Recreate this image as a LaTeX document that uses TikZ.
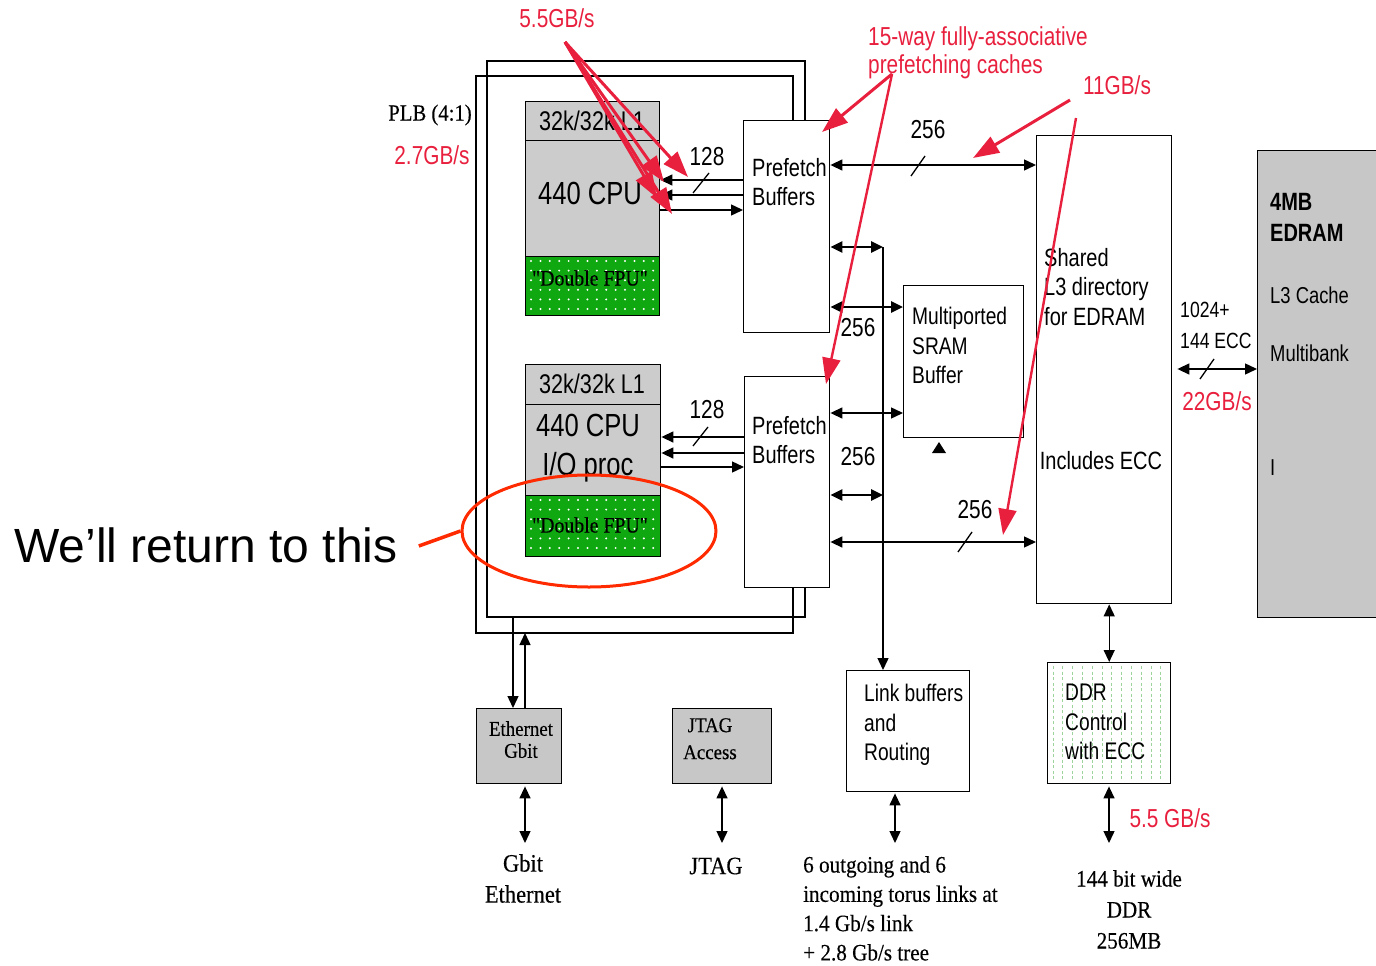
\documentclass[tikz,border=0pt]{standalone}
\usepackage{fontspec}
\setmainfont{Liberation Sans}
\newfontfamily\narrowsans[FakeStretch=0.8]{Liberation Sans}
\newfontfamily\narrowserif[FakeStretch=0.9,FakeBold=0.3]{Liberation Serif}
\usetikzlibrary{arrows.meta,positioning,calc,shapes.geometric}
\definecolor{annotRed}{HTML}{E8203E}
\definecolor{ringRed}{HTML}{FF2A00}
\definecolor{fpuGreen}{HTML}{10A810}
\definecolor{ddrGreen}{HTML}{9CD49C}
\newcommand{\sz}[2]{\fontsize{#1}{#2}\selectfont}

\begin{document}
\begin{tikzpicture}[
    x=1pt,y=-1pt,
    box/.style={draw,line width=1.4pt,inner sep=0pt,anchor=north west},
    grayfill/.style={fill=black!20},
    lab/.style={inner sep=0pt,font=\narrowsans\sz{25}{29.5}},
    serlab/.style={inner sep=0pt,font=\narrowserif\sz{23.5}{29.3}},
    arr/.style={line width=1.4pt,-{Triangle[length=12pt,width=11pt]}},
    darr/.style={line width=1.4pt,{Triangle[length=12pt,width=11pt]}-{Triangle[length=12pt,width=11pt]}},
    busarr/.style={darr,line width=2.8pt},
    slash/.style={line width=1.3pt},
    note/.style={inner sep=0pt,text=annotRed,font=\narrowsans\sz{26}{28}},
    redarr/.style={draw=annotRed,line width=3pt,-{Triangle[length=26pt,width=18pt]}}
  ]
  \useasboundingbox (0,0) rectangle (1376,966);
  %% PLB bus outlines round the two cores
  \draw[line width=1.4pt] (805,120) |- (487,61) |- (805,617) -- (805,588);
  \draw[line width=1.4pt] (793,120) |- (476,76) |- (793,633) -- (793,588);
  %% Core 0
  \node[box,grayfill,minimum width=134,minimum height=39]  (l1a)  at (525,101) {};
  \node[box,grayfill,minimum width=134,minimum height=116] (cpua) at (525,140) {};
  \node[box,fill=fpuGreen,minimum width=134,minimum height=59] (fpua) at (525,256) {};
  %% Core 1 (I/O)
  \node[box,grayfill,minimum width=135,minimum height=40]  (l1b)  at (525,364) {};
  \node[box,grayfill,minimum width=135,minimum height=91]  (cpub) at (525,404) {};
  \node[box,fill=fpuGreen,minimum width=135,minimum height=61] (fpub) at (525,495) {};
  \foreach \n in {fpua,fpub}
    \foreach \i in {0,...,13}
      \foreach \j in {0,...,5}
        \fill[white] ($(\n.north west)+(6+\i*9.4,5+\j*9.6)$) circle (1.1pt);
  %% Prefetch, SRAM, L3, EDRAM
  \node[box,minimum width=86,minimum height=212]  (pf1)   at (743,120) {};
  \node[box,minimum width=85,minimum height=211]  (pf2)   at (744,376) {};
  \node[box,minimum width=120,minimum height=152] (sram)  at (903,285) {};
  \node[box,minimum width=135,minimum height=468] (l3)    at (1036,135) {};
  \node[box,fill=black!22,minimum width=135,minimum height=467] (edram) at (1257,150) {};
  %% Lower blocks
  \node[box,minimum width=123,minimum height=121] (link) at (846,670) {};
  \node[box,minimum width=123,minimum height=121] (ddr)  at (1047,662) {};
  \foreach \i in {0,...,11}
    \draw[ddrGreen,line width=0.9pt,dash pattern=on 3pt off 2.5pt]
      ($(ddr.north west)+(6+\i*9.8,4)$) -- ++(0,113);
  \node[box,fill=black!22,minimum width=85,minimum height=75] (eth)  at (476,708) {};
  \node[box,fill=black!22,minimum width=99,minimum height=75] (jtag) at (672,708) {};
  %% Box texts
  \node[lab,font=\narrowsans\sz{27}{29}] (l1aT) at (592,121) {32k/32k L1};
  \node[lab,font=\narrowsans\sz{32}{34}] (cpuaT) at (590,193) {440 CPU};
  \node[lab,font=\narrowserif\sz{22}{24}] (fpuaT) at (590,278) {"Double FPU"};
  \node[lab,font=\narrowsans\sz{27}{29}] (l1bT) at (592,384) {32k/32k L1};
  \node[lab,font=\narrowsans\sz{32}{39},align=center] (cpubT) at (588,448) {440 CPU\\I/O proc};
  \node[lab,font=\narrowserif\sz{22}{24}] (fpubT) at (590,525) {"Double FPU"};
  \node[lab,anchor=north west,align=left] (pf1T) at (752,158) {Prefetch\\Buffers};
  \node[lab,anchor=north west,align=left] (pf2T) at (752,416) {Prefetch\\Buffers};
  \node[lab,anchor=north west,align=left,font=\narrowsans\sz{24}{29.5}] (sramT) at (912,307) {Multiported\\SRAM\\Buffer};
  \node[lab,anchor=north west,align=left] (l3T) at (1044,248) {Shared\\L3 directory\\for EDRAM};
  \node[lab] (eccT) at (1101,461) {Includes ECC};
  \node[lab,anchor=north west,align=left,font=\narrowsans\bfseries\sz{25}{31}] (edramT) at (1270,193) {4MB\\EDRAM};
  \node[lab,anchor=west,font=\narrowsans\sz{23}{25}] (l3cT) at (1270,295) {L3 Cache};
  \node[lab,anchor=west,font=\narrowsans\sz{23}{25}] (bankT) at (1270,353) {Multibank};
  \node[lab,anchor=west,font=\narrowsans\sz{23}{25}] (barT) at (1270,468) {I};
  \node[lab,anchor=north west,align=left,font=\narrowsans\sz{24}{29.5}] (linkT) at (864,684) {Link buffers\\and\\Routing};
  \node[lab,anchor=north west,align=left,font=\narrowsans\sz{24}{29.5}] (ddrT) at (1065,684) {DDR\\Control\\with ECC};
  \node[serlab,anchor=north,align=center,font=\narrowserif\sz{21}{22}] (ethT) at (521,721) {Ethernet\\Gbit};
  \node[serlab,anchor=north,align=center,font=\narrowserif\sz{21}{27}] (jtagT) at (710,718) {JTAG\\Access};
  %% Width labels
  \node[lab,font=\narrowsans\sz{26}{28}] (w128a) at (707,157) {128};
  \node[lab,font=\narrowsans\sz{26}{28}] (w128b) at (707,410) {128};
  \node[lab,font=\narrowsans\sz{26}{28}] (w256a) at (928,130) {256};
  \node[lab,font=\narrowsans\sz{26}{28}] (w256b) at (858,328) {256};
  \node[lab,font=\narrowsans\sz{26}{28}] (w256c) at (858,457) {256};
  \node[lab,font=\narrowsans\sz{26}{28}] (w256d) at (975,510) {256};
  \node[lab,anchor=north west,align=left,font=\narrowsans\sz{22}{31}] (eccW) at (1180,302) {1024+\\144 ECC};
  \node[serlab,font=\narrowserif\sz{23}{25}] (plbT) at (430,115) {PLB (4:1)};
  %% Core to prefetch links
  \draw[arr] (pf1.west |- 0,180) -- (cpua.east |- 0,180);
  \draw[arr] (pf1.west |- 0,195) -- (cpua.east |- 0,195);
  \draw[arr] (cpua.east |- 0,210) -- (pf1.west |- 0,210);
  \draw[arr] (pf2.west |- 0,437) -- (cpub.east |- 0,437);
  \draw[arr] (pf2.west |- 0,453) -- (cpub.east |- 0,453);
  \draw[arr] (cpub.east |- 0,467) -- (pf2.west |- 0,467);
  \draw[slash] (693,193) -- (709,173);
  \draw[slash] (693,446) -- (708,427);
  %% Prefetch to SRAM / L3 / bus
  \coordinate (busTop) at (883,247);
  \draw[arr] (busTop) -- (busTop |- link.north);
  \draw[busarr] (pf1.east |- busTop) -- (busTop);
  \draw[busarr] (pf1.east |- 0,307) -- (sram.west |- 0,307);
  \draw[darr] (pf2.east |- 0,413) -- (sram.west |- 0,413);
  \draw[busarr] (pf2.east |- 0,495) -- (busTop |- 0,495);
  \draw[darr] (pf1.east |- 0,165) -- (l3.west |- 0,165);
  \draw[darr] (pf2.east |- 0,542) -- (l3.west |- 0,542);
  \draw[slash] (911,176) -- (925,156);
  \draw[slash] (958,552) -- (972,532);
  \fill (932,453) -- (946,453) -- (939,442) -- cycle;
  %% L3 to EDRAM and DDR
  \draw[darr] ($(l3.east |- 0,369)+(5,0)$) -- (edram.west |- 0,369);
  \draw[slash] (1200,379) -- (1214,359);
  \draw[darr] (l3.south -| ddr.north) -- (ddr.north);
  %% PLB to Ethernet
  \coordinate (plbIn) at (513,617);
  \draw[arr] (plbIn) -- (plbIn |- eth.north);
  \draw[arr] (eth.north -| 525,0) -- (525,633);
  %% Off-chip pins
  \coordinate (gbitEnd)  at (525,843);
  \coordinate (jtagEnd)  at (722,843);
  \coordinate (torusEnd) at (895,843);
  \coordinate (ddrEnd)   at (1109,843);
  \draw[darr] ($(eth.south -| gbitEnd)+(0,2)$) -- (gbitEnd);
  \draw[darr] ($(jtag.south -| jtagEnd)+(0,2)$) -- (jtagEnd);
  \draw[darr] ($(link.south -| torusEnd)+(0,1)$) -- (torusEnd);
  \draw[darr] ($(ddr.south -| ddrEnd)+(0,2)$) -- (ddrEnd);
  \node[serlab,anchor=north,align=center,font=\narrowserif\sz{25}{31}] (gbitT) at (523,854) {Gbit\\Ethernet};
  \node[serlab,font=\narrowserif\sz{25}{27}] (jtagPinT) at (716,866) {JTAG};
  \node[serlab,anchor=north west,align=left] (torusT) at (803,856) {6 outgoing and 6\\incoming torus links at\\1.4 Gb/s link\\+ 2.8 Gb/s tree};
  \node[serlab,anchor=north,align=center,font=\narrowserif\sz{23.5}{31}] (dramT) at (1129,870) {144 bit wide\\DDR\\256MB};
  %% Red bandwidth notes
  \node[note] (bwPlb)  at (432,155) {2.7GB/s};
  \node[note] (bwCore) at (557,18) {5.5GB/s};
  \node[note,anchor=north west,align=left] (cacheN) at (868,26) {15-way fully-associative\\prefetching caches};
  \node[note] (bwL3)   at (1117,85) {11GB/s};
  \node[note] (bwEd)   at (1217,401) {22GB/s};
  \node[note] (bwDdr)  at (1170,818) {5.5 GB/s};
  \foreach \t in {(688,177),(664,182),(657,198),(672,214)}
    \draw[redarr] (565,42) -- \t;
  \draw[redarr] (892,74) -- (822,132);
  \draw[redarr,line width=2.4pt] (892,74) -- (826,384);
  \draw[redarr] (1070,100) -- (973,158);
  \draw[redarr,line width=2.4pt] (1076,118) -- (1003,535);
  %% Call-out
  \node[draw=ringRed,line width=3pt,ellipse,minimum width=254,minimum height=112,inner sep=0pt] (fpuRing) at (589,531) {};
  \node[inner sep=0pt,font=\sz{48}{50}] (returnT) at (206,545) {We’ll return to this};
  \draw[ringRed,line width=3.5pt] ($(returnT.east)+(21,1)$) -- (fpuRing.west);
\end{tikzpicture}
\end{document}
